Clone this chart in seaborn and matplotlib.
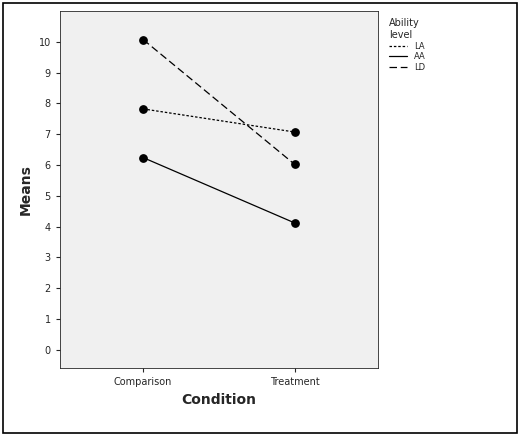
import matplotlib
matplotlib.use("Agg")
import matplotlib.pyplot as plt
import pandas as pd
import seaborn as sns

conditions = ['Comparison', 'Treatment']
la_means = [7.82, 7.07]
aa_means = [6.24, 4.12]
ld_means = [10.07, 6.02]

df = pd.DataFrame({
    'Condition': conditions * 3,
    'Means': la_means + aa_means + ld_means,
    'Ability level': ['LA'] * 2 + ['AA'] * 2 + ['LD'] * 2,
})

sns.set_style('ticks')
fig = plt.figure(figsize=(5.2, 4.36), dpi=100)
ax = fig.add_axes([0.115, 0.155, 0.612, 0.82])
ax.set_facecolor('#f0f0f0')

styles = {'LA': (0, (2, 1.5)), 'AA': '-', 'LD': (0, (6, 3))}
for lvl in ['LA', 'AA', 'LD']:
    sub = df[df['Ability level'] == lvl]
    sns.lineplot(data=sub, x='Condition', y='Means', ax=ax, color='black',
                 linewidth=0.9, linestyle=styles[lvl], label=lvl, sort=False)
    ax.scatter(sub['Condition'], sub['Means'], color='black', s=28, zorder=3)

ax.set_xlim(-0.55, 1.55)
ax.set_ylim(-0.6, 11.0)
ax.set_yticks(range(0, 11))
ax.tick_params(labelsize=7, length=3)
ax.set_xlabel('Condition', fontsize=10, fontweight='bold')
ax.set_ylabel('Means', fontsize=10, fontweight='bold')
for s in ax.spines.values():
    s.set_linewidth(0.6)
leg = ax.legend(title='Ability\nlevel', loc='upper left', bbox_to_anchor=(1.01, 1.0),
                frameon=False, fontsize=6, title_fontsize=7, handlelength=2.2,
                labelspacing=0.2, alignment='left')
fig.add_artist(plt.Rectangle((0.006, 0.008), 0.988, 0.984, transform=fig.transFigure,
                             fill=False, edgecolor='black', linewidth=1.2))
fig.savefig('out.png', dpi=100)
